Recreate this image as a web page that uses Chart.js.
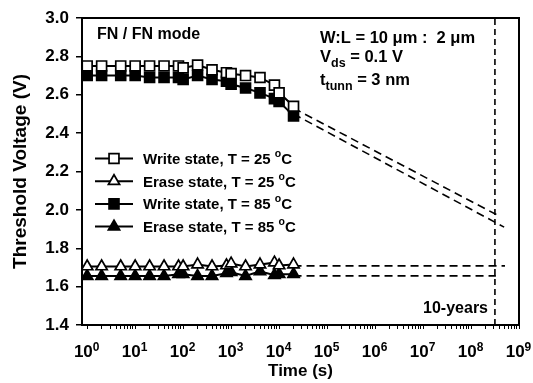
<!DOCTYPE html>
<html>
<head>
<meta charset="utf-8">
<script src="https://cdn.jsdelivr.net/npm/chart.js@4.4.1/dist/chart.umd.min.js"></script>
<style>
html,body{margin:0;padding:0;background:#fff;}
canvas{display:block;}
</style>
</head>
<body>
<canvas id="c" width="533" height="383"></canvas>
<script>
// ---- data ----
const times = [1, 2, 5, 10, 20, 40, 80, 100, 200, 400, 800, 1000, 2000, 4000, 8000, 10000, 20000];
const write25 = [2.75, 2.75, 2.75, 2.75, 2.75, 2.75, 2.75, 2.74, 2.755, 2.73, 2.715, 2.71, 2.70, 2.69, 2.65, 2.61, 2.54];
const erase25 = [1.705, 1.705, 1.705, 1.705, 1.705, 1.705, 1.705, 1.705, 1.715, 1.705, 1.71, 1.72, 1.705, 1.715, 1.725, 1.71, 1.715];
const write85 = [2.70, 2.70, 2.70, 2.70, 2.69, 2.69, 2.69, 2.68, 2.70, 2.68, 2.67, 2.655, 2.635, 2.61, 2.58, 2.565, 2.49];
const erase85 = [1.655, 1.655, 1.655, 1.655, 1.655, 1.655, 1.665, 1.665, 1.655, 1.655, 1.67, 1.675, 1.655, 1.68, 1.66, 1.665, 1.665];

// extrapolation (dashed) lines
const extWrite25Times = [20000, 3.4e8];
const extWrite25Vals = [2.53, 1.975];
const extWrite85Times = [20000, 4.9e8];
const extWrite85Vals = [2.50, 1.91];
const extErase25Times = [20000, 5.1e8];
const extErase25Vals = [1.708, 1.708];
const extErase85Times = [20000, 3.3e8];
const extErase85Vals = [1.656, 1.656];
const tenYearTimes = [3.15e8, 3.15e8];
const tenYearVals = [1.4, 3.0];

// axis ticks
const yTicks = [1.4, 1.6, 1.8, 2.0, 2.2, 2.4, 2.6, 2.8, 3.0];
const xMajorExps = [0, 1, 2, 3, 4, 5, 6, 7, 8, 9];
const xMinorMult = [2, 3, 4, 5, 6, 7, 8, 9];

const legendLabels = ['Write state, T = 25 ', 'Erase state, T = 25 ', 'Write state, T = 85 ', 'Erase state, T = 85 '];

const FAM = '"Liberation Sans", Arial, Helvetica, sans-serif';
Chart.defaults.font.family = FAM;
Chart.defaults.font.weight = 'bold';
Chart.defaults.color = '#000';

const pts = (ts, vs) => ts.map((t, i) => ({x: t, y: vs[i]}));

const xTickValues = [];
xMajorExps.forEach(e => {
  xTickValues.push(Math.pow(10, e));
  if (e < 9) xMinorMult.forEach(m => xTickValues.push(m * Math.pow(10, e)));
});

const series = [
  {data: write25, style: 'rect', r: 7, fill: '#fff'},
  {data: erase25, style: 'triangle', r: 6.5, fill: '#fff'},
  {data: write85, style: 'rect', r: 7, fill: '#000'},
  {data: erase85, style: 'triangle', r: 6.5, fill: '#000'}
];

const datasets = series.map(s => ({
  data: pts(times, s.data),
  borderColor: '#000',
  borderWidth: 2,
  pointStyle: s.style,
  pointRadius: s.r,
  pointBackgroundColor: s.fill,
  pointBorderColor: '#000',
  pointBorderWidth: 1.7,
  tension: 0
}));

const dashed = (ts, vs, dash) => ({
  data: pts(ts, vs),
  borderColor: '#000',
  borderWidth: 1.6,
  borderDash: dash,
  pointRadius: 0,
  tension: 0
});
datasets.push(dashed(extWrite25Times, extWrite25Vals, [8, 5]));
datasets.push(dashed(extWrite85Times, extWrite85Vals, [8, 5]));
datasets.push(dashed(extErase25Times, extErase25Vals, [8, 5]));
datasets.push(dashed(extErase85Times, extErase85Vals, [8, 5]));
datasets.push(dashed(tenYearTimes, tenYearVals, [6, 4]));

function drawMarker(ctx, style, x, y, r, fill) {
  ctx.beginPath();
  if (style === 'rect') {
    const s = r * Math.SQRT1_2;
    ctx.rect(x - s, y - s, 2 * s, 2 * s);
  } else {
    const h = r;
    ctx.moveTo(x, y - h);
    ctx.lineTo(x + h * Math.sin(2 * Math.PI / 3), y + h * 0.5);
    ctx.lineTo(x - h * Math.sin(2 * Math.PI / 3), y + h * 0.5);
    ctx.closePath();
  }
  ctx.fillStyle = fill;
  ctx.fill();
  ctx.lineWidth = 1.7;
  ctx.strokeStyle = '#000';
  ctx.stroke();
}

function subText(ctx, x, y, parts) {
  // parts: [text, size, dy]
  parts.forEach(p => {
    ctx.font = 'bold ' + p[1] + 'px ' + FAM;
    ctx.fillText(p[0], x, y + p[2]);
    x += ctx.measureText(p[0]).width;
  });
}

const annot = {
  id: 'annot',
  afterDraw(chart) {
    const {ctx, chartArea: a, scales: {x}} = chart;
    ctx.save();
    // frame top/right
    ctx.strokeStyle = '#000';
    ctx.lineWidth = 2;
    ctx.beginPath();
    ctx.moveTo(a.left - 1, a.top);
    ctx.lineTo(a.right, a.top);
    ctx.lineTo(a.right, a.bottom + 1);
    ctx.stroke();

    // x tick labels 10^n
    ctx.fillStyle = '#000';
    ctx.textBaseline = 'alphabetic';
    ctx.textAlign = 'left';
    xMajorExps.forEach(e => {
      const px = x.getPixelForValue(Math.pow(10, e));
      ctx.font = 'bold 17px ' + FAM;
      const w1 = ctx.measureText('10').width;
      ctx.font = 'bold 12px ' + FAM;
      const w2 = ctx.measureText(String(e)).width;
      const x0 = px - (w1 + w2 + 1) / 2;
      subText(ctx, x0, 357, [['10', 17, 0], [String(e), 12, -6]]);
    });

    // annotations
    subText(ctx, 97, 39, [['FN / FN mode', 16, 0]]);
    subText(ctx, 320, 43, [['W:L = 10 \u03bcm :  2 \u03bcm', 16.5, 0]]);
    subText(ctx, 320, 62, [['V', 16.5, 0], ['ds', 12.5, 5], [' = 0.1 V', 16.5, 0]]);
    subText(ctx, 320, 85, [['t', 16.5, 0], ['tunn', 12.5, 5], [' = 3 nm', 16.5, 0]]);
    ctx.textAlign = 'right';
    ctx.font = 'bold 16px ' + FAM;
    ctx.fillText('10-years', 488, 313);
    ctx.textAlign = 'left';

    // legend
    series.forEach((s, i) => {
      const cy = 158.5 + i * 22.7;
      ctx.strokeStyle = '#000';
      ctx.lineWidth = 2;
      ctx.beginPath();
      ctx.moveTo(95, cy);
      ctx.lineTo(133, cy);
      ctx.stroke();
      drawMarker(ctx, s.style, 114, cy, s.r, s.fill);
      ctx.fillStyle = '#000';
      subText(ctx, 143, cy + 5.5, [[legendLabels[i], 15, 0], ['o', 10.5, -7], ['C', 15, 0]]);
    });
    ctx.restore();
  }
};

new Chart(document.getElementById('c'), {
  type: 'line',
  data: {datasets},
  options: {
    responsive: false,
    animation: false,
    devicePixelRatio: 1,
    layout: {padding: {top: 18, right: 14, left: 0, bottom: 0}},
    plugins: {legend: {display: false}, tooltip: {enabled: false}},
    scales: {
      x: {
        type: 'logarithmic',
        min: 0.78,
        max: 1e9,
        afterBuildTicks: s => { s.ticks = xTickValues.map(v => ({value: v})); },
        afterFit: s => { s.height = 58; },
        ticks: {autoSkip: false, maxRotation: 0, callback: () => '', font: {size: 10}},
        grid: {drawOnChartArea: false, drawTicks: true, tickLength: 4, color: '#000', lineWidth: 1},
        border: {display: true, color: '#000', width: 2},
        title: {display: true, text: 'Time (s)', font: {size: 17, weight: 'bold'}, color: '#000', padding: {top: 0, bottom: 1}}
      },
      y: {
        type: 'linear',
        min: 1.4,
        max: 3.0,
        afterBuildTicks: s => { s.ticks = yTicks.map(v => ({value: v})); },
        afterFit: s => { s.width = 82; },
        ticks: {callback: v => Number(v).toFixed(1), font: {size: 17, weight: 'bold'}, color: '#000', padding: 7},
        grid: {drawOnChartArea: false, drawTicks: true, tickLength: 6, color: '#000', lineWidth: 1.5},
        border: {display: true, color: '#000', width: 2},
        title: {display: true, text: 'Threshold Voltage (V)', font: {size: 19, weight: 'bold'}, color: '#000', padding: {top: 9}}
      }
    }
  },
  plugins: [annot]
});
</script>
</body>
</html>
